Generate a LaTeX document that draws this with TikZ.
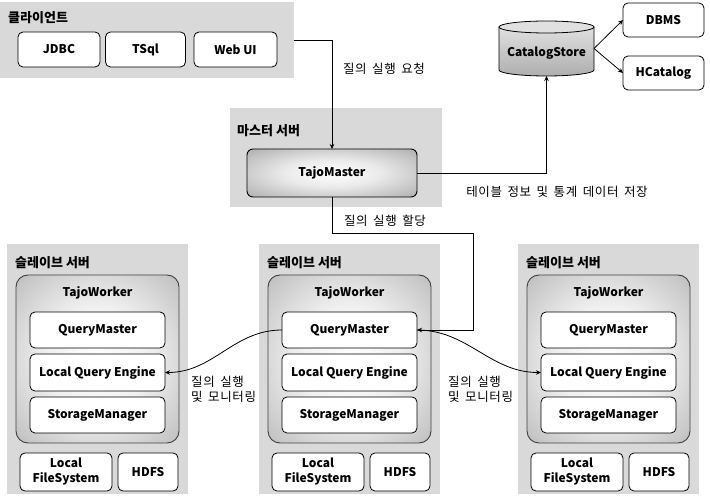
\documentclass[tikz,border=0pt]{standalone}
\usepackage{fontspec}
\setmainfont{Noto Sans CJK KR}
\newfontfamily\korlbl[LetterSpace=5,WordSpace=1.6]{Noto Sans CJK KR}
\usetikzlibrary{arrows.meta}
\definecolor{areagray}{HTML}{D9D9D9}
\pgfdeclareradialshading{workershade}{\pgfpoint{0bp}{0bp}}{color(0bp)=(white); color(16bp)=(white!94!black); color(38bp)=(white!72!black); color(50bp)=(white!45!black); color(72bp)=(white!38!black)}
\pgfdeclareradialshading{mastershade}{\pgfpoint{0bp}{0bp}}{color(0bp)=(white); color(14bp)=(white!92!black); color(36bp)=(white!68!black); color(50bp)=(white!45!black); color(72bp)=(white!38!black)}
\tikzset{
  area/.style={fill=areagray, draw=none, inner sep=0pt, outer sep=0pt},
  wbox/.style={draw=black, fill=white, rounded corners=5pt, line width=0.8pt, inner sep=0pt, outer sep=0pt, font=\fontsize{12}{15}\selectfont\bfseries, align=center},
  worker/.style={draw=black!75, rounded corners=12pt, line width=0.9pt, shading=workershade, inner sep=0pt, outer sep=0pt},
  master/.style={draw=black, rounded corners=6pt, line width=0.9pt, shading=mastershade, inner sep=0pt, outer sep=0pt, font=\fontsize{12}{14}\selectfont\bfseries},
  atitle/.style={anchor=west, inner sep=0pt, font=\fontsize{13}{15}\selectfont\bfseries},
  lbl/.style={inner sep=0pt, font=\korlbl\fontsize{12.5}{16}\selectfont},
  conn/.style={line width=0.8pt, -{Stealth[length=5pt,width=4.5pt]}},
}
\begin{document}
\begin{tikzpicture}[x=1pt,y=-1pt]
\useasboundingbox (0,0) rectangle (710,502);
% client
\node[area, minimum width=294pt, minimum height=76pt] (client) at (147,40) {};
\node[atitle] (clientT) at (8,18) {클라이언트};
\node[wbox, minimum width=82pt, minimum height=35pt] (jdbc) at (59,49.5) {JDBC};
\node[wbox, minimum width=80pt, minimum height=35pt] (tsql) at (145.5,49.5) {TSql};
\node[wbox, minimum width=83pt, minimum height=35pt] (webui) at (235.5,49.5) {Web UI};
% master
\node[area, minimum width=212pt, minimum height=99pt] (marea) at (336,157.5) {};
\node[atitle] (mT) at (237,131) {마스터 서버};
\node[master, minimum width=170pt, minimum height=48pt] (tm) at (332,173) {TajoMaster};
% catalog
\shade[top color=black!12, bottom color=black!32, draw=black, line width=0.8pt] (499,27) -- (499,70) arc[start angle=180, end angle=360, x radius=47.5pt, y radius=6pt] -- (594,27);
\draw[fill=black!12, line width=0.8pt] (546.5,27) ellipse[x radius=47.5pt, y radius=6pt];
\node[inner sep=0pt, outer sep=0pt, minimum width=95pt, minimum height=55pt, label={[font=\fontsize{12}{14}\selectfont\bfseries, yshift=-4.5pt]center:CatalogStore}] (cat) at (546.5,48.5) {};
\node[wbox, minimum width=81pt, minimum height=34pt] (dbms) at (663.5,20) {DBMS};
\node[wbox, minimum width=81pt, minimum height=34pt] (hcat) at (663.5,73) {HCatalog};
% slaves
\foreach \i/\x in {1/7,2/259,3/518}{
  \node[area, minimum width=181pt, minimum height=250pt] (s\i) at (\x+90.5,369) {};
  \node[atitle] (sT\i) at (\x+8,263) {슬레이브 서버};
  \node[worker, minimum width=163pt, minimum height=168pt] (w\i) at (\x+90.5,359) {};
  \node[inner sep=0pt, font=\fontsize{12}{14}\selectfont\bfseries] (wT\i) at (\x+90.5,293) {TajoWorker};
  \node[wbox, minimum width=135pt, minimum height=36pt] (qm\i) at (\x+90.5,330) {QueryMaster};
  \node[wbox, minimum width=135pt, minimum height=37pt] (lqe\i) at (\x+90.5,372.5) {Local Query Engine};
  \node[wbox, minimum width=135pt, minimum height=36pt] (sm\i) at (\x+90.5,415) {StorageManager};
  \node[wbox, minimum width=92pt, minimum height=38pt] (lfs\i) at (\x+59,472) {Local\\FileSystem};
  \node[wbox, minimum width=60pt, minimum height=38pt] (hdfs\i) at (\x+141,472) {HDFS};
}
% connectors
\draw[conn] (client.east) -| (tm.north);
\node[lbl] (l1) at (384,69) {질의 실행 요청};
\coordinate (c1) at (473,233);
\draw[conn] (tm.south) |- (c1) |- (qm2.east);
\node[lbl] (l2) at (385,221) {질의 실행 할당};
\draw[conn] (tm.east) -| (cat.south);
\node[lbl] (l3) at (557,192) {테이블 정보 및 통계 데이터 저장};
\draw[conn] (cat.east) -- (dbms.west);
\draw[conn] (cat.east) -- (hcat.west);
\draw[conn] (qm2.west) to[out=180,in=0] (lqe1.east);
\draw[conn] (qm2.east) to[out=0,in=180] (lqe3.west);
\node[lbl, anchor=west, align=left] (l4) at (191,389) {질의 실행\\[-1pt]및 모니터링};
\node[lbl, anchor=west, align=left] (l5) at (448,389) {질의 실행\\[-1pt]및 모니터링};
\end{tikzpicture}
\end{document}
